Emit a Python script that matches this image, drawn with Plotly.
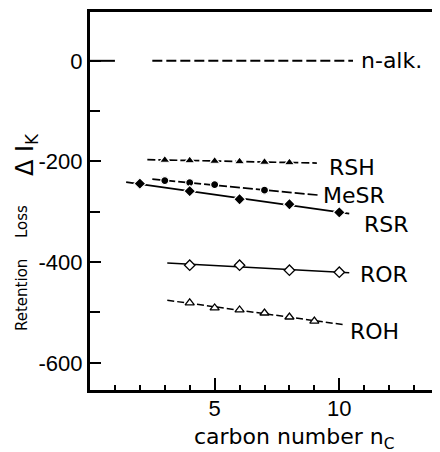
import numpy as np
import plotly.graph_objects as go

# ---------------- data ----------------
series_names = ["RSH", "MeSR", "RSR", "ROR", "ROH"]
rsh_x = [3, 4, 5, 6, 7, 8]
rsh_y = [-197, -198, -199, -200, -201, -202]
mesr_x = [3, 4, 5, 7]
mesr_y = [-238, -242, -246, -257]
rsr_x = [2, 4, 6, 8, 10]
rsr_y = [-244, -259, -275, -285, -301]
ror_x = [4, 6, 8, 10]
ror_y = [-406, -406, -416, -420]
roh_x = [4, 5, 6, 7, 8, 9]
roh_y = [-481, -491, -495, -501, -509, -517]
nalk_value = 0

# extent of each fitted line (carbon number)
line_start = [2.3, 2.5, 1.45, 3.1, 3.1]
line_end = [9.1, 9.2, 10.4, 10.4, 10.15]
nalk_start, nalk_end = 2.5, 10.55

y_tick_vals = [-600, -400, -200, 0]
y_tick_text = ["-600", "-400", "-200", "0"]
x_tick_vals = [5, 10]
x_tick_text = ["5", "10"]

# ---------------- styling ----------------
TXT = "DejaVu Sans"
NUM = "Liberation Sans"
styles = [
    dict(symbol="triangle-up", size=9, color="black", dash="8px,3px", width=1.7),
    dict(symbol="circle", size=8, color="black", dash="10px,3px", width=1.7),
    dict(symbol="diamond", size=9, color="black", dash="solid", width=1.7),
    dict(symbol="diamond", size=8, color="white", dash="solid", width=1.5),
    dict(symbol="triangle-up", size=8, color="white", dash="7px,3px", width=1.5),
]
label_pos = [(9.5, -211), (9.25, -267), (10.9, -325), (10.75, -425), (10.35, -537)]

xs = [rsh_x, mesr_x, rsr_x, ror_x, roh_x]
ys = [rsh_y, mesr_y, rsr_y, ror_y, roh_y]

# page body adds an 8px offset; plot area spans x 90..439, y 12..390 on screen
OFF = 8
PL, PR, PT, PB = 90 - OFF, 440 - 439 + OFF, 12 - OFF, 452 - 390 + OFF
PW, PH = 440 - PL - PR, 452 - PT - PB


def px_x(sx):
    return (sx - 90) / PW


def px_y(sy):
    return (390 - sy) / PH


fig = go.Figure()

# n-alkane reference line
fig.add_trace(go.Scatter(x=[nalk_start, nalk_end], y=[nalk_value, nalk_value], mode="lines",
                         line=dict(color="black", width=2, dash="10px,4px"),
                         hoverinfo="skip", showlegend=False))

for i, name in enumerate(series_names):
    st = styles[i]
    k, b = np.polyfit(xs[i], ys[i], 1)
    lx = np.array([line_start[i], line_end[i]])
    fig.add_trace(go.Scatter(x=lx, y=k * lx + b, mode="lines",
                             line=dict(color="black", width=st["width"], dash=st["dash"]),
                             hoverinfo="skip", showlegend=False))
    if st["color"] == "white":
        mk = dict(symbol=st["symbol"], size=st["size"], color="white",
                  line=dict(color="black", width=1.3))
    else:
        mk = dict(symbol=st["symbol"], size=st["size"], color="black",
                  line=dict(color="white", width=1.2))
    fig.add_trace(go.Scatter(x=xs[i], y=ys[i], mode="markers", marker=mk,
                             name=name, showlegend=False))
    fig.add_annotation(x=label_pos[i][0], y=label_pos[i][1], text=name, showarrow=False,
                       xanchor="left", yanchor="middle",
                       font=dict(family=TXT, size=22, color="black"))

fig.add_annotation(x=10.8, y=nalk_value, text="n-alk.", showarrow=False,
                   xanchor="left", yanchor="middle",
                   font=dict(family=TXT, size=22, color="black"))

# longer zero tick
fig.add_shape(type="line", x0=0, x1=1.0, y0=0, y1=0, xref="x", yref="y",
              line=dict(color="black", width=2))
# thin right frame
fig.add_shape(type="line", x0=1, x1=1, y0=0, y1=1, xref="paper", yref="paper",
              line=dict(color="black", width=1.5))

# axis titles
fig.add_annotation(x=px_x(27), y=px_y(155), xref="paper", yref="paper", text="Δ I<sub>K</sub>",
                   textangle=-90, showarrow=False, xanchor="center", yanchor="middle",
                   font=dict(family=TXT, size=24, color="black"))
fig.add_annotation(x=px_x(22), y=px_y(222), xref="paper", yref="paper", text="Loss",
                   textangle=-90, showarrow=False, xanchor="center", yanchor="middle",
                   font=dict(family=TXT, size=15, color="black"))
fig.add_annotation(x=px_x(22), y=px_y(295), xref="paper", yref="paper", text="Retention",
                   textangle=-90, showarrow=False, xanchor="center", yanchor="middle",
                   font=dict(family=TXT, size=15, color="black"))
fig.add_annotation(x=px_x(192), y=px_y(438), xref="paper", yref="paper",
                   text="carbon number n<sub>C</sub>", showarrow=False,
                   xanchor="left", yanchor="middle",
                   font=dict(family=TXT, size=22, color="black"))

fig.update_xaxes(range=[0, 14], showgrid=False, zeroline=False,
                 showline=True, linewidth=3, linecolor="black", mirror=True,
                 ticks="inside", ticklen=12, tickwidth=2, tickcolor="black",
                 tickvals=x_tick_vals, ticktext=x_tick_text, ticklabelstandoff=-3,
                 tickfont=dict(family=NUM, size=22, color="black"),
                 minor=dict(dtick=1, tick0=0, ticks="inside", ticklen=5, tickwidth=1.5,
                            tickcolor="black", showgrid=False))
fig.update_yaxes(range=[-654, 97], showgrid=False, zeroline=False,
                 showline=True, linewidth=3, linecolor="black", mirror=False,
                 ticks="inside", ticklen=11, tickwidth=2, tickcolor="black",
                 tickvals=y_tick_vals, ticktext=y_tick_text,
                 tickfont=dict(family=NUM, size=22, color="black"),
                 minor=dict(dtick=100, tick0=0, ticks="inside", ticklen=10, tickwidth=1.5,
                            tickcolor="black", showgrid=False))

fig.update_layout(width=440, height=452, margin=dict(l=PL, r=PR, t=PT, b=PB, autoexpand=False),
                  plot_bgcolor="white", paper_bgcolor="white", showlegend=False)

fig.write_html("out.html")
